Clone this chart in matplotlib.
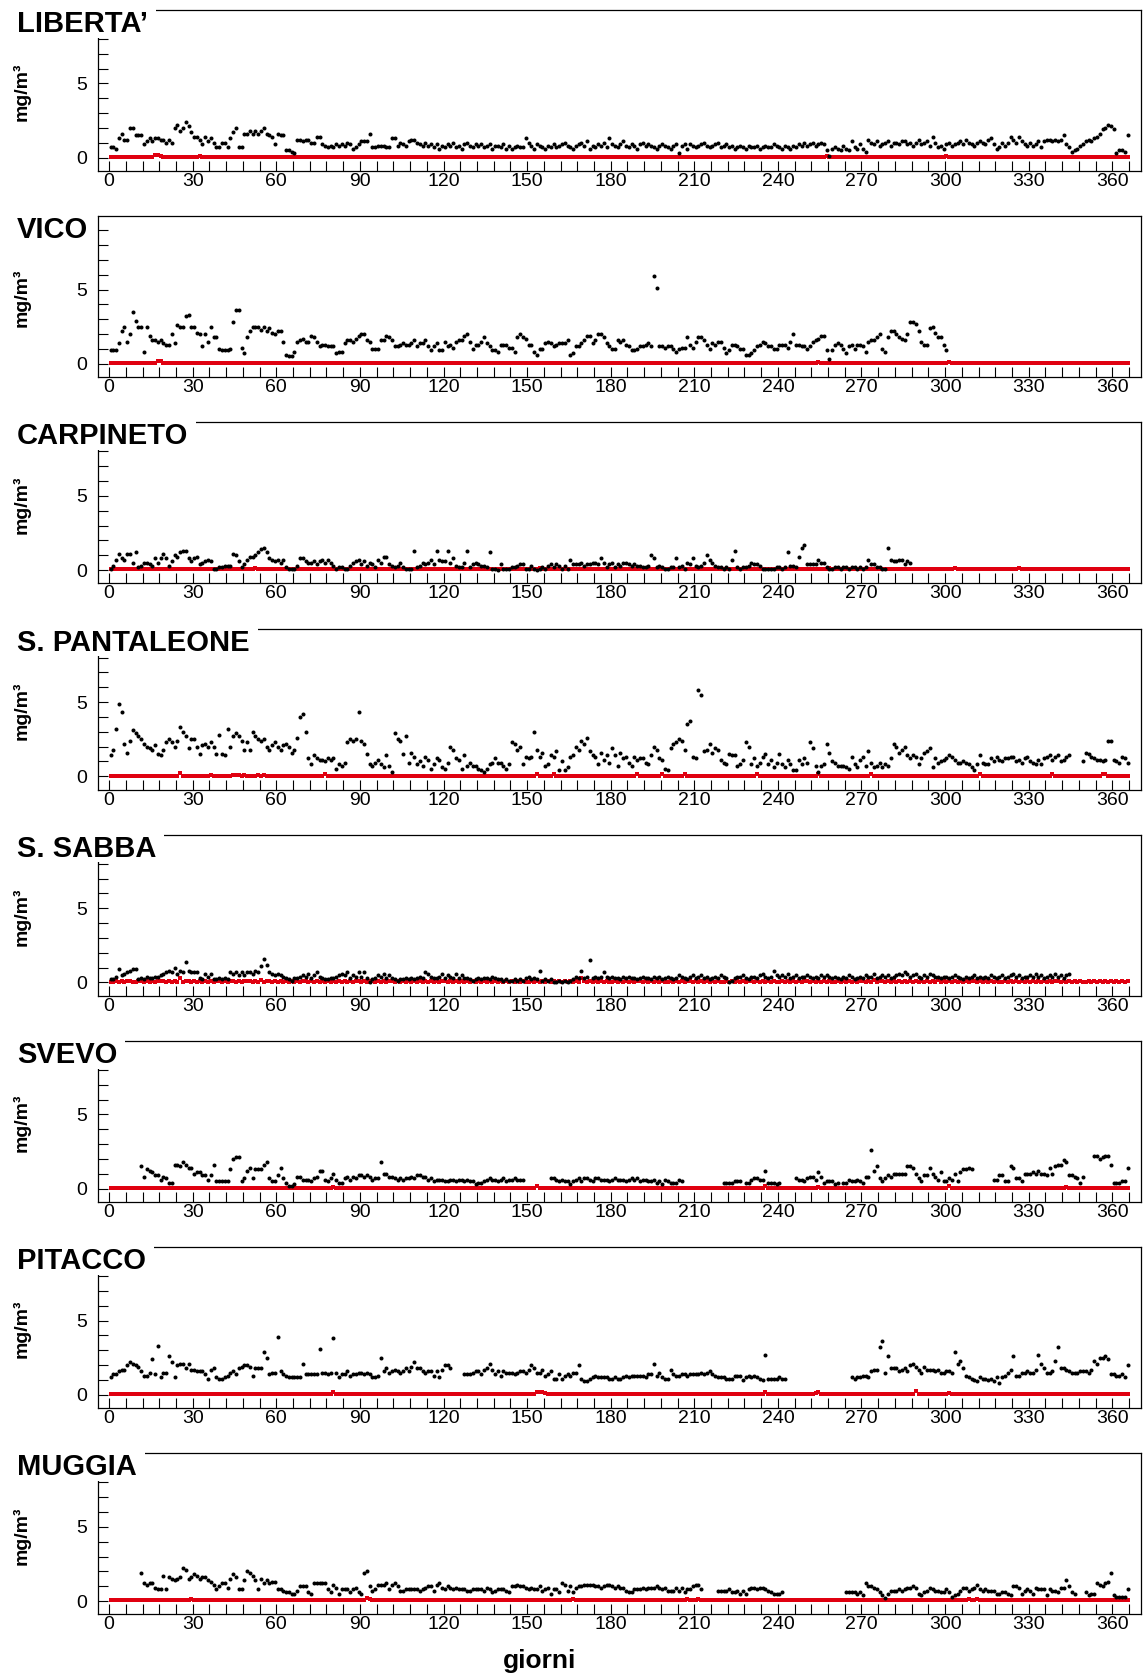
import numpy as np
import matplotlib.pyplot as plt
from matplotlib.ticker import MultipleLocator, FixedLocator
from matplotlib.patches import Rectangle

plt.rcParams['font.family'] = ['Liberation Sans', 'DejaVu Sans']

stations = ["LIBERTA’", "VICO", "CARPINETO", "S. PANTALEONE",
            "S. SABBA", "SVEVO", "PITACCO", "MUGGIA"]

# black series: daily values in tenths of mg/m3, one line = 30 days, '.' = no data
liberta = """
7 7 6 13 16 12 12 20 20 15 15 15 9 11 13 11 13 13 12 12 10 12 10 20 22 18 20 24 21 17
14 14 12 9 14 11 13 10 7 7 10 10 7 13 17 20 7 7 16 16 18 16 18 16 18 20 16 15 14 9
16 15 15 5 5 4 3 12 12 11 12 12 10 10 14 14 9 8 7 8 7 9 8 9 8 10 9 6 7 9
11 11 11 16 7 7 8 8 8 7 7 13 13 8 10 9 8 11 12 12 10 9 8 10 8 9 7 9 6 8
7 9 8 10 7 8 6 9 10 8 7 9 8 9 7 8 9 6 8 8 7 9 6 8 6 7 8 7 7 13
10 8 6 9 8 7 6 8 7 9 7 8 9 10 8 7 6 8 9 10 8 11 6 8 7 9 8 10 7 13
9 8 7 9 11 8 7 9 8 6 9 10 8 9 8 7 6 8 9 8 7 6 8 9 3 8 9 6 9 8
7 8 9 10 8 7 8 9 10 7 8 9 7 8 6 7 8 7 6 8 7 7 8 6 7 8 7 7 9 8
7 6 8 7 6 8 7 9 8 10 8 9 10 8 9 10 9 5 1 6 7 6 5 8 6 5 11 7 6 9
6 4 12 10 9 11 8 9 10 11 8 10 10 9 11 11 9 10 8 10 12 9 10 11 8 14 10 7 8 6
9 10 8 9 10 11 9 12 10 9 8 10 11 10 9 12 13 9 6 7 10 8 10 14 12 10 14 11 9 8
10 8 9 11 7 11 12 12 11 12 11 12 15 9 7 4 5 6 8 9 11 12 11 13 14 16 19 20 22 21
19 3 5 5 4 15
"""

vico = """
9 9 9 14 22 25 15 20 35 29 25 25 8 25 19 16 16 15 16 14 13 13 20 14 26 25 25 32 33 25
25 21 20 12 20 15 25 18 18 10 9 9 9 10 28 36 36 11 7 18 22 25 25 25 23 25 22 24 21 20
22 22 15 6 5 5 8 15 16 17 15 15 19 18 15 12 13 13 12 12 12 7 8 8 14 16 16 15 17 19
20 20 16 15 10 10 10 16 16 19 18 16 12 12 13 14 13 13 14 16 12 14 14 16 12 9 12 14 9 9
15 12 13 11 15 16 16 19 20 15 10 13 13 15 18 14 12 9 9 8 13 13 13 11 11 8 18 20 18 17
13 13 8 6 10 10 14 15 14 12 13 14 14 14 16 6 7 12 12 14 16 19 19 14 16 20 20 18 14 12
10 10 16 15 16 13 12 9 9 10 12 12 13 14 12 59 51 12 12 11 12 12 10 8 10 11 11 18 13 11
15 18 18 16 13 10 14 13 15 15 11 7 9 13 13 12 10 10 6 6 7 9 12 13 15 14 12 12 10 10
13 13 13 11 15 20 13 13 12 12 10 12 15 16 17 19 19 9 3 9 13 14 13 10 7 12 13 10 13 13
12 8 15 16 16 18 20 10 8 18 22 22 20 18 17 16 20 28 28 27 22 15 13 13 24 25 21 18 18 13
9 . . . . . . . . . . . . . . . . . . . . . . . . . . . . .
. . . . . . . . . . . . . . . . . . . . . . . . . . . . . .
. . . . . . 
"""

carpineto = """
1 3 7 11 8 7 11 11 5 12 2 3 5 5 4 3 8 5 8 11 8 3 6 10 9 12 13 13 8 6
8 9 4 5 6 7 6 1 1 2 2 3 3 3 11 10 6 2 4 7 9 9 10 12 14 15 12 8 7 6
7 5 7 2 1 1 1 3 8 8 6 5 5 6 4 6 7 5 7 5 3 1 2 2 1 1 3 5 6 7
4 6 3 5 4 2 7 5 9 9 4 3 2 3 5 2 1 1 1 13 2 3 5 4 5 7 4 13 7 6
6 13 5 8 3 2 2 5 13 2 4 5 4 3 3 2 12 1 1 0 4 1 1 1 2 2 3 4 4 1
1 3 1 0 1 2 1 3 4 2 4 3 1 3 1 7 4 4 4 5 3 4 4 5 5 4 8 5 2 4
5 2 4 3 5 5 4 3 4 3 3 2 2 3 10 8 2 3 2 1 1 2 2 8 2 3 1 5 4 8
3 2 3 5 10 7 5 3 2 2 1 2 1 7 13 2 1 2 2 3 5 4 4 3 1 1 1 1 1 2
2 1 2 12 3 3 2 9 15 17 4 4 4 4 7 5 5 2 1 1 2 2 1 2 2 1 2 2 1 2
1 2 7 4 4 2 2 1 1 15 7 6 6 7 7 4 6 5 . . . . . . . . . . . .
. . . . . . . . . . . . . . . . . . . . . . . . . . . . . .
. . . . . . . . . . . . . . . . . . . . . . . . . . . . . .
. . . . . .
"""

pantaleone = """
14 18 32 49 43 22 16 24 31 29 27 25 22 20 19 18 21 15 14 18 23 25 23 20 24 33 30 27 19 25
25 20 15 21 22 20 23 20 15 28 15 14 32 20 27 29 27 24 18 23 18 30 27 25 24 25 20 18 21 23
20 18 21 22 20 16 18 26 40 42 30 12 8 14 12 11 11 10 12 11 12 5 8 7 9 23 25 24 25 43
24 22 15 8 7 9 11 8 6 14 7 3 29 25 24 15 27 9 16 13 8 10 7 13 11 5 8 12 11 6
5 9 20 18 12 11 5 14 7 9 7 7 5 4 3 5 8 9 12 9 9 7 5 8 23 22 18 20 8 13
12 13 30 18 13 16 7 8 14 13 17 4 10 4 6 13 14 20 18 24 22 26 17 14 13 8 16 11 14 9
19 14 7 16 12 13 9 7 13 11 12 12 9 8 14 20 18 12 11 5 4 19 22 23 25 24 18 35 37 13
12 58 55 17 18 22 16 19 18 11 9 8 15 14 14 7 8 11 23 20 8 12 7 9 13 15 8 11 6 9
15 8 6 11 8 4 4 11 8 12 9 23 19 7 3 7 8 22 16 10 9 7 7 7 6 5 13 8 6 11
13 7 17 9 6 7 9 6 8 7 12 22 20 16 18 20 14 12 14 13 8 12 16 17 19 6 12 9 10 11
12 14 13 11 9 9 10 9 8 6 4 8 14 9 8 8 12 10 13 11 10 12 12 13 13 10 11 9 12 13
10 9 8 11 8 12 13 14 11 13 14 10 11 13 14 . . . . 10 16 15 13 12 11 11 10 11 24 24
11 10 9 13 12 9
"""

sabba = """
2 2 4 9 5 6 7 8 9 9 2 3 2 4 3 3 4 4 5 6 7 8 7 10 6 8 7 14 8 7
7 7 3 2 6 4 6 2 2 3 2 3 2 7 6 7 5 7 5 7 7 6 8 7 11 16 12 7 6 5
6 5 4 3 2 1 3 3 4 5 4 6 3 5 7 4 3 2 2 3 3 4 5 6 5 7 3 5 4 7
4 7 3 0 2 3 5 4 6 3 5 3 2 1 2 2 3 2 3 2 3 4 3 7 6 4 3 3 4 6
3 5 4 3 6 3 5 3 3 2 1 2 3 2 3 3 2 4 3 2 2 1 2 1 1 2 1 2 1 3
4 2 3 2 8 1 2 1 2 0 0 1 0 1 0 1 2 4 3 8 3 4 15 3 4 3 4 7 4 3
4 3 3 2 4 3 4 3 3 2 3 4 3 3 2 4 3 4 2 3 4 3 2 3 5 4 3 2 4 5
3 4 5 3 4 2 3 4 3 5 4 3 0 1 3 4 4 5 3 2 4 4 3 5 6 4 3 4 8 5
4 5 4 6 3 4 5 3 4 4 5 4 3 4 3 5 4 5 4 3 4 3 2 4 3 5 4 2 3 4
3 5 4 4 6 3 4 5 4 5 3 4 5 6 5 7 6 4 5 6 4 3 5 4 6 5 4 4 3 4
4 3 4 5 4 3 2 4 3 4 5 3 4 3 4 3 5 4 3 4 5 3 4 5 6 4 5 3 4 4
5 4 6 4 5 3 4 5 4 6 4 5 3 5 6 . . . . . . . . . . . . . . .
. . . . . .
"""

svevo = """
. . . . . . . . . . . 15 8 13 12 11 9 9 6 8 7 4 4 16 16 15 18 16 14 14
10 11 11 9 9 6 9 16 5 5 5 5 5 13 20 21 21 5 7 12 14 7 13 13 13 16 18 7 5 5
9 14 7 4 2 2 3 8 8 6 6 6 5 7 8 12 12 6 5 7 10 6 4 4 7 8 6 8 7 9
9 8 9 8 6 7 7 18 10 10 8 8 7 6 7 6 7 7 8 7 9 9 8 8 6 7 5 6 6 6
5 5 6 6 5 6 6 5 6 5 5 3 4 4 5 6 7 6 6 5 6 7 5 6 6 7 6 6 6 .
. . . . . . . . 7 7 6 5 6 5 5 3 5 6 7 5 7 7 6 5 7 7 6 6 6 5
6 7 6 6 6 5 6 7 6 7 5 6 6 5 5 6 4 5 3 6 5 4 4 4 6 5 . . . .
. . . . . . . . . . 4 4 4 4 5 5 5 . 4 4 6 7 7 6 6 12 4 4 4 3
4 . . . . . 7 6 6 5 7 8 8 6 11 8 4 5 5 5 3 4 . 4 4 6 5 5 6 5
4 8 8 26 12 15 7 5 7 9 8 10 10 10 10 10 15 15 14 10 7 5 9 9 14 10 8 6 11 5
5 7 6 10 5 11 13 13 14 13 . . . . . . . 6 6 9 9 5 5 15 14 7 7 5 10 10
10 11 10 12 10 10 9 14 10 15 16 16 19 18 9 9 8 7 4 8 . . . 22 22 20 21 22 22 16
4 4 4 5 5 14
"""

pitacco = """
12 14 14 16 17 17 20 22 21 20 19 16 13 13 15 24 14 33 12 15 15 26 22 12 20 21 21 18 21 17
17 16 16 16 14 11 17 18 12 11 11 12 13 15 16 14 18 19 20 20 19 13 18 18 18 29 25 14 15 15
39 16 14 13 12 12 12 12 12 21 14 14 14 14 14 31 15 15 14 15 38 15 12 14 14 16 13 14 14 15
15 14 15 14 12 12 13 25 16 18 15 16 17 16 15 16 18 16 19 22 18 18 16 15 16 16 13 16 12 17
20 20 18 . . . . 14 14 14 15 16 16 14 17 18 21 17 14 16 13 16 15 15 15 14 15 16 16 15
17 20 18 15 15 17 13 14 16 11 11 14 11 13 14 13 15 15 20 11 9 9 11 12 13 12 12 12 12 11
11 12 11 11 12 13 12 13 13 13 13 13 12 14 14 21 13 15 12 11 11 17 14 13 13 14 14 13 14 14
14 14 15 14 15 16 14 13 12 12 12 11 11 11 13 13 13 10 12 13 12 13 12 11 10 27 11 11 11 11
12 11 11 . . . . . . . . . . . . . . . . . . . . . . . 12 11 12 12
13 13 12 16 17 17 32 36 15 26 18 18 18 16 17 18 16 20 21 19 17 15 19 17 17 17 16 17 15 15
16 16 15 29 21 23 18 13 12 11 10 9 12 11 11 10 11 9 12 8 12 13 15 17 26 13 13 15 15 16
15 15 17 27 21 18 15 15 16 23 32 18 18 17 16 15 15 15 16 16 16 15 17 23 21 25 25 26 24 14
14 13 13 14 12 20
"""

muggia = """
. . . . . . . . . . . 19 12 11 12 12 9 8 8 17 8 16 15 14 15 16 22 21 15 16
18 17 15 16 16 14 13 11 8 10 12 12 9 15 18 16 8 8 14 20 19 17 14 8 15 12 14 12 13 13
8 8 7 6 6 5 5 7 10 10 10 6 5 12 12 12 12 12 8 6 11 9 5 8 8 8 6 8 9 6
5 19 20 10 7 8 11 11 11 12 8 11 12 10 7 7 8 8 8 8 8 7 8 9 10 10 7 11 12 9
8 10 9 8 9 8 8 8 7 7 8 8 8 8 7 9 8 6 7 8 8 8 7 6 10 10 11 10 10 9
8 9 8 8 10 7 8 9 5 8 8 6 12 11 7 10 6 9 10 10 11 11 11 11 10 10 9 10 11 11
10 9 10 9 9 7 6 6 8 8 8 9 8 9 9 9 10 9 8 9 7 7 7 9 7 9 6 8 8 10
11 11 8 . . . . . 7 7 7 7 8 6 6 7 5 7 5 8 9 9 8 9 9 8 7 6 5 5
5 6 . . . . . . . . . . . . . . . . . . . . . . 6 6 6 6 5 6
4 12 10 10 9 8 6 4 2 5 7 7 7 8 7 8 9 9 10 9 5 4 6 7 9 8 7 7 6 6
8 6 3 4 5 7 9 9 7 8 9 11 8 7 8 7 7 7 5 5 6 6 5 4 10 10 9 5 7 8
7 5 9 8 8 8 4 8 7 7 6 9 9 14 10 6 5 . . . 6 4 5 5 12 11 10 12 13 19
4 3 3 3 3 8
"""

# red series: one digit per day, value = digit * 0.04 mg/m3
liberta_r = """
1111111111 1111114431 1111111111
1121111111 1111111111 1111111111
1111111111 1111111111 1111111111
1111111111 1111111111 1111111111
1111111111 1111111111 1111111111
1111111111 1111111111 1111111111
1111111111 1111111111 1111111111
1111111111 1111111111 1111111111
1111111111 1111111211 1111111111
1111111111 1111111111 1111111111
2111111111 1111111111 1111111111
1111111111 1111111111 1111111111
111111
"""

vico_r = """
1111111111 1111111541 1111111111
1121111211 1111111111 1111111111
1111111111 1111111211 1111111111
1111111211 1111111111 1111111111
1111111111 1111111111 1111111111
1111111111 1111111111 1111111111
1111111111 1111111111 1111111111
1111111111 1111111111 1111111111
1111111111 1111311111 1111111111
1111111111 1111111111 2111111111
1311111111 1111111111 1111111111
1111111111 1111111111 1111111111
111111
"""

carpineto_r = """
1121112111 2111121112 1121111211
1211121111 1121112111 1131211121
1211121111 2111211121 1211112111
1121112112 1111211121 1112111211
1211121112 1112112111 2111211121
1121311121 1211112121 1112111211
1211121112 1121121111 2111211121
1112111211 1211112111 1211121112
1121112111 2111121131 1121112111
1211121112 1111211121 1111111111
1114111111 1121111111 1111114111
1111111111 1111111111 1111111111
111111
"""

pantaleone_r = """
1111111111 1111111111 1111161111
1111112111 1111222121 1112121111
1111111111 1111111311 1111111111
1111111111 1111111111 1111111111
1111111111 1111111111 1111111111
1113111114 1111111111 1111111111
1111111114 1111111131 1111113111
1111111111 1111111111 1131111111
1111111111 1111311111 1111111111
1113111111 1111111111 1111111111
1111111111 1131111111 1111111111
1111111141 1111111111 1111113311
111111
"""

sabba_r = """
1121213211 2312121232 1213171321
2121312123 1213212123 2131412312
1212131212 2121312121 2131212123
1212312121 2312121212 1213121213
2121312121 2131212121 2121312121
1213121212 1212121218 2121312121
1213121212 2121312121 1213121231
2121312121 1213121212 2131212121
1212131212 2121312121 1213121212
2131412312 1213121213 1212131412
1213121212 2131212121 1213121212
1212131212 2121312121 1213121312
121212
"""

svevo_r = """
1111111111 1111111111 1111111111
1111111111 1111111111 1111111111
1111111111 1111111111 3111111111
1111111111 1111111111 1111111111
1111111111 1111111111 1111111111
1114111111 1111111111 1111111111
1111111111 1111111111 1111111111
1111111111 1111111111 1111151111
1111111111 1111311111 1111111111
1111111111 1111111111 1111111111
1511111111 1111111111 1111111111
1111111111 1113111111 1111111111
111111
"""

pitacco_r = """
1111111111 1111111111 1111111111
1111111111 1111111111 1112111111
1111111111 1111111111 5111111111
1111111111 1111111111 1111111111
1111111111 1111111111 1111111111
1115543111 1111111111 1111111111
1111111111 1111121212 1212111111
1111111111 1111111111 1111151111
1111111111 1113411111 1111111111
1111111111 1111111117 1111111111
1311111111 1111111111 1111111111
1111111111 2111111111 1111111111
111111
"""

muggia_r = """
1111111111 1111111111 1111111113
1111111111 1111111111 1111111111
1111111111 1111111111 1111111111
1154111111 1111111111 1111111111
1111111111 1111111111 1111111111
1111111111 1111113111 1111111111
1111111111 1111111111 1111111311
1311111111 1111111111 1111111111
1111111111 1111111111 1111111111
1111111111 1111111111 1111111111
1111111131 1311111111 1111111111
1111111111 1111111111 1111111111
111111
"""

black_data = [liberta, vico, carpineto, pantaleone, sabba, svevo, pitacco, muggia]
red_data = [liberta_r, vico_r, carpineto_r, pantaleone_r, sabba_r, svevo_r, pitacco_r, muggia_r]


def parse_black(s):
    return np.array([np.nan if t == '.' else int(t) / 10 for t in s.split()])


def parse_red(s):
    return np.array([int(c) * 0.04 for c in "".join(s.split())])


W, H = 1144, 1679
step = 206.2
fig = plt.figure(figsize=(W / 100, H / 100), dpi=100)

titles = []
for k, name in enumerate(stations):
    top = 10 + step * k
    bot = 171 + step * k
    ax = fig.add_axes([98 / W, 1 - bot / H, 1042.7 / W, (bot - top) / H])

    red = parse_red(red_data[k])
    blk = parse_black(black_data[k])
    ax.plot(np.arange(len(red)) + 0.5, red, 's', color='#e00010', ms=3.0, mew=0, zorder=2)
    ax.plot(np.arange(len(blk)) + 0.5, blk, 'o', color='black', ms=2.9, mew=0, zorder=3)

    ax.set_xlim(-4, 370.2)
    ax.set_ylim(-0.9, 9.95)
    ax.xaxis.set_major_locator(MultipleLocator(30))
    ax.xaxis.set_minor_locator(MultipleLocator(6))
    ax.yaxis.set_major_locator(FixedLocator([0, 5]))
    ax.yaxis.set_minor_locator(MultipleLocator(1))
    ax.tick_params(which='both', direction='in', length=7.5, width=0.8,
                   top=False, right=False)
    ax.tick_params(axis='x', labelsize=14, pad=1.5)
    ax.tick_params(axis='y', labelsize=14, pad=8)
    for sp in ax.spines.values():
        sp.set_linewidth(0.9)

    t = fig.text(17 / W, 1 - (32 + step * k) / H, name, fontsize=21,
                 fontweight='bold', va='baseline', ha='left', zorder=7)
    titles.append(t)
    fig.text(22 / W, 1 - (92 + step * k) / H, 'mg/m³', rotation=90,
             fontsize=14, fontweight='bold', ha='center', va='center')

fig.text(540 / W, 1 - 1668 / H, 'giorni', fontsize=19, fontweight='bold',
         ha='center', va='baseline')

# white title boxes covering the top-left corner of each frame
fig.canvas.draw()
renderer = fig.canvas.get_renderer()
for k, t in enumerate(titles):
    bb = t.get_window_extent(renderer=renderer)
    y0 = 1 - (37.5 + step * k) / H
    rect = Rectangle((0, y0), (bb.x1 + 8) / W, 32 / H, transform=fig.transFigure,
                     facecolor='white', edgecolor='none', zorder=6)
    fig.add_artist(rect)

fig.savefig('out.png', dpi=100)
